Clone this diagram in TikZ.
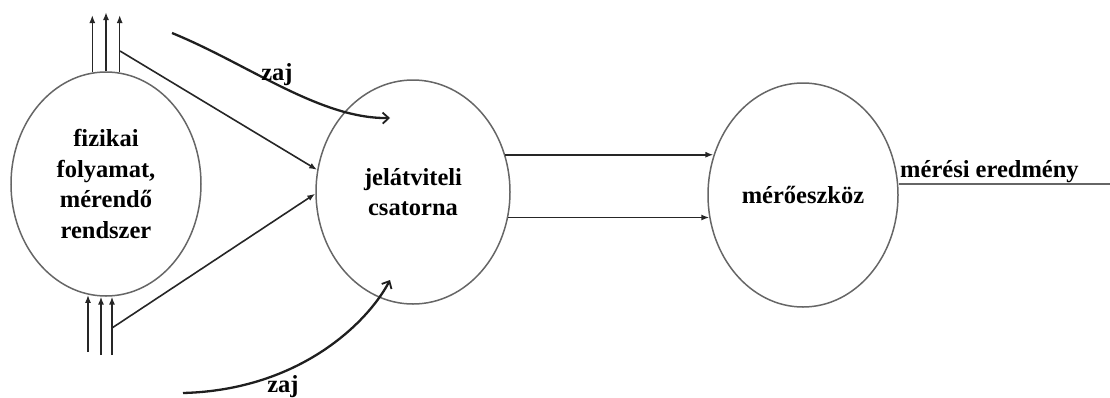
\documentclass[tikz,border=0pt]{standalone}
\usepackage{fontspec}
\setmainfont{Liberation Serif}
\usetikzlibrary{shapes.geometric,arrows.meta}
\begin{document}
\begin{tikzpicture}[x=1pt,y=-1pt,
  blob/.style={ellipse,draw=black!60,line width=1.5pt,inner sep=0pt,
    align=center,font=\fontsize{24.5}{30.5}\selectfont\bfseries},
  lbl/.style={font=\fontsize{24.5}{30.5}\selectfont\bfseries,inner sep=0pt},
  sig/.style={line width=1.6pt,draw=black!85,-{Latex[length=8pt,width=6pt]}},
  noise/.style={line width=2.3pt,draw=black!88,-{Straight Barb[length=6pt,width=11pt,line width=1.8pt]}}]
\useasboundingbox (0,0) rectangle (1110,397);

% the three blocks
\node[blob,minimum width=190pt,minimum height=224pt] (L) at (106,184)
  {fizikai\\folyamat,\\mérendő\\rendszer};
\node[blob,minimum width=194pt,minimum height=224pt] (J) at (413,192)
  {jelátviteli\\csatorna};
\node[blob,minimum width=190pt,minimum height=224pt] (M) at (803,195)
  {mérőeszköz};

% free ends of the outgoing and incoming signal lines
\coordinate (t1) at (92,15);
\coordinate (t2) at (106,12);
\coordinate (t3) at (120,15);
\coordinate (b1) at (88,352);
\coordinate (b2) at (101,355);
\coordinate (b3) at (112,355);
\coordinate (a1) at (120,51);
\coordinate (a2) at (112,328);

% signals leaving the process at the top
\draw[sig] (L.97) -- (L.97 |- t1);
\draw[sig] (L.north) -- (L.north |- t2);
\draw[sig] (L.83) -- (L.83 |- t3);

% signals entering the process from below
\draw[sig] (b1) -- (b1 |- L.261);
\draw[sig] (b2) -- (b2 |- L.267);
\draw[sig] (b3) -- (b3 |- L.273);

% branches into the transmission channel
\draw[sig] (a1) -- (J.167);
\draw[sig] (a2) -- (J.181);

% channel to the instrument
\draw[sig] (J.22) -- (M.156 |- J.22);
\draw[sig] (J.-15) -- (M.194 |- J.-15);

% output of the instrument
\coordinate (out) at (1110,184);
\draw[line width=2pt,draw=black!60] ([yshift=11pt]M.east) -- (out);
\node[lbl,anchor=base west] (res) at (900,177) {mérési eredmény};

% noise acting on the channel
\coordinate (n1s) at (172,33);
\coordinate (n1e) at (390,118);
\coordinate (n2s) at (183,393);
\coordinate (n2e) at (390,280);
\draw[noise] (n1s) .. controls (248,64) and (320,119) .. (n1e);
\draw[noise] (n2s) .. controls (300,390) and (368,322) .. (n2e);
\node[lbl,anchor=base] (z1) at (277,80) {zaj};
\node[lbl,anchor=base] (z2) at (283,392) {zaj};
\end{tikzpicture}
\end{document}
